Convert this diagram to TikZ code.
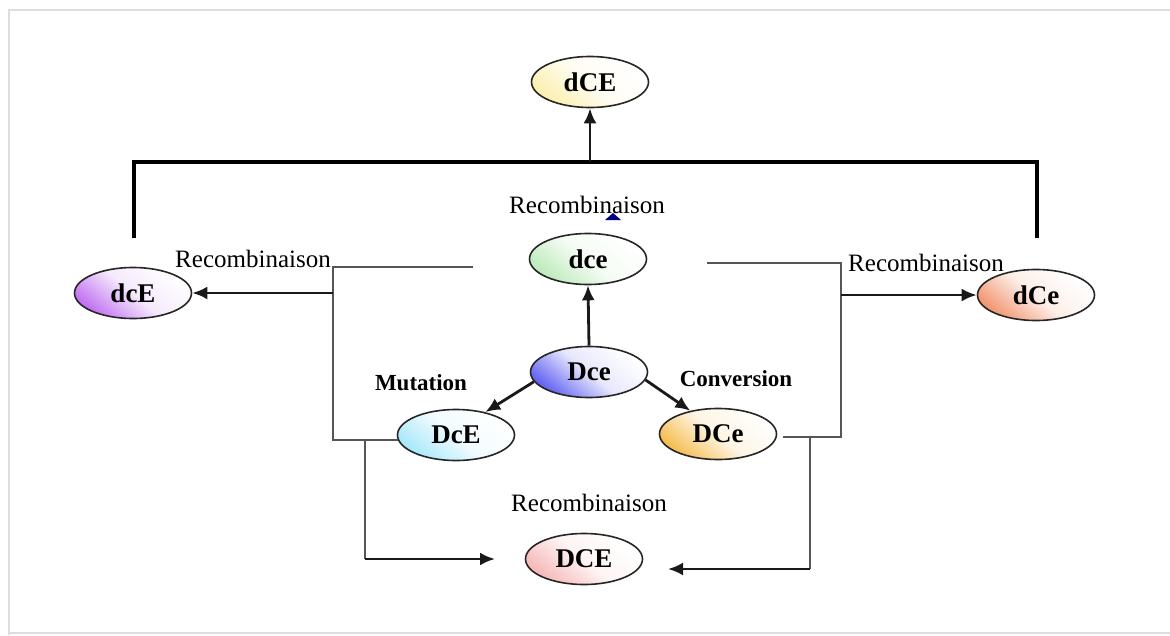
\documentclass[tikz,border=0pt]{standalone}
\usepackage{fontspec}
\setmainfont{Liberation Serif}
\usetikzlibrary{arrows.meta,shapes.geometric}
\definecolor{cdCE}{HTML}{FBEFAE}
\definecolor{cdce}{HTML}{BDEBBA}
\definecolor{cdcE}{HTML}{C070F0}
\definecolor{cdCe}{HTML}{F29570}
\definecolor{cDce}{HTML}{6262F2}
\definecolor{cDcE}{HTML}{A8E8FA}
\definecolor{cDCe}{HTML}{F6BD50}
\definecolor{cDCE}{HTML}{F6B8B8}
\definecolor{thinln}{HTML}{555555}
\definecolor{framegray}{HTML}{DDDDDD}
\tikzset{
  gnode/.style={ellipse, draw=black!85, line width=1.6pt,
    top color=#1, bottom color=white, middle color=white!85!#1, shading angle=140,
    minimum width=117pt, minimum height=51pt, inner sep=0pt,
    font=\fontsize{27}{30}\selectfont\bfseries},
  lbl/.style={font=\fontsize{25}{28}\selectfont, inner sep=0pt},
  blbl/.style={font=\fontsize{23}{28}\selectfont\bfseries, inner sep=0pt},
  arr/.style={line width=2.8pt, draw=black!90, -{Latex[length=15pt,width=13pt]}},
  thin/.style={line width=1.4pt, draw=thinln},
  heavy/.style={line width=4.5pt, draw=black, line join=miter}
}
\begin{document}
\begin{tikzpicture}[x=1pt,y=-1pt]
\useasboundingbox (0,0) rectangle (1170,635);
\fill[white] (0,0) rectangle (1170,635);
% faint frame
\draw[framegray, line width=2pt] (9,635) -- (9,10) -- (1170,10);
\draw[framegray, line width=2pt] (9,633) -- (1170,633);

% nodes
\node[gnode=cdCE] (ndCE) at (590,82) {dCE};
\node[gnode=cdce] (ndce) at (588,259) {dce};
\node[gnode=cdcE] (ndcE) at (133,293) {dcE};
\node[gnode=cdCe] (ndCe) at (1036,295) {dCe};
\node[gnode=cDce] (nDce) at (589,372) {Dce};
\node[gnode=cDcE] (nDcE) at (456,435) {DcE};
\node[gnode=cDCe] (nDCe) at (718,434) {DCe};
\node[gnode=cDCE] (nDCE) at (584,559) {DCE};

% labels
\node[lbl] (rtop) at (587,205) {Recombinaison};
\node[lbl] (rleft) at (253,259) {Recombinaison};
\node[lbl] (rright) at (926,263) {Recombinaison};
\node[lbl] (rbot) at (589,503) {Recombinaison};
\node[blbl] (mut) at (421,383) {Mutation};
\node[blbl] (conv) at (736,379) {Conversion};
\fill[blue!50!black] (605,220) -- (621,220) -- (613,213) -- cycle;

% heavy bar to dCE
\coordinate (bl) at (134,238);
\coordinate (blt) at (134,162);
\coordinate (brt) at (1037,162);
\coordinate (br) at (1037,238);
\coordinate (bm) at (590,162);
\draw[heavy] (bl) -- (blt) -- (brt) -- (br);
\draw[arr] (bm) -- (ndCE.south);

% left bracket
\coordinate (L1) at (473,267);
\coordinate (L2) at (333,267);
\coordinate (L3) at (333,440);
\coordinate (L4) at (398,440);
\draw[thin] (L1) -- (L2) -- (L3) -- (L4);
\coordinate (La) at (333,293);
\draw[arr] (La) -- (ndcE.east);
\coordinate (Lb) at (365,440);
\coordinate (Lc) at (365,559);
\coordinate (Ld) at (495,559);
\draw[thin] (Lb) -- (Lc);
\draw[arr] (Lc) -- (Ld);

% right bracket
\coordinate (R1) at (707,263);
\coordinate (R2) at (841,263);
\coordinate (R3) at (841,437);
\coordinate (R4) at (783,437);
\draw[thin] (R1) -- (R2) -- (R3) -- (R4);
\coordinate (Ra) at (841,295);
\draw[arr] (Ra) -- (ndCe.west);
\coordinate (Rb) at (810,437);
\coordinate (Rc) at (810,569);
\coordinate (Rd) at (668,569);
\draw[thin] (Rb) -- (Rc);
\draw[arr] (Rc) -- (Rd);

% central arrows
\draw[arr] (nDce.north) -- (ndce.south);
\draw[arr] (nDce.190) -- (nDcE.38);
\draw[arr] (nDce.-8) -- (nDCe.140);
\end{tikzpicture}
\end{document}
